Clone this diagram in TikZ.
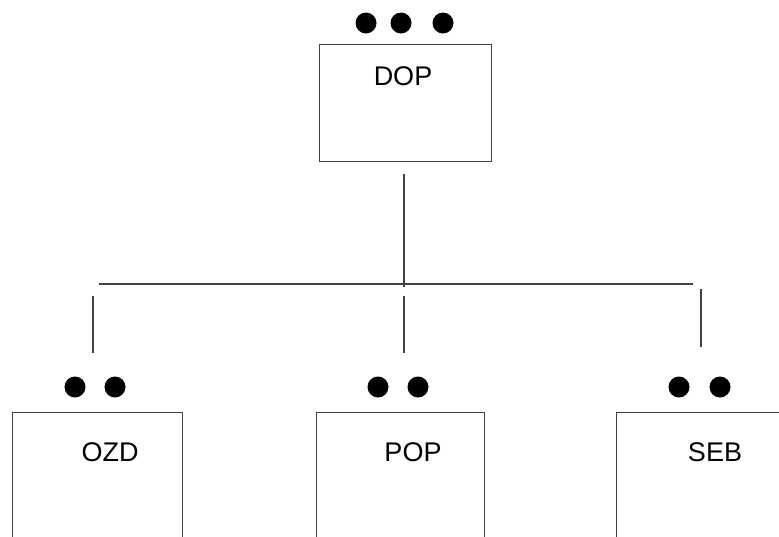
\documentclass[tikz,border=0pt]{standalone}
\usepackage{fontspec}
\setmainfont{Liberation Sans}
\begin{document}
\begin{tikzpicture}[x=1pt,y=-1pt,
  box/.style={draw=black!75,line width=1.1pt,rectangle,inner sep=0pt,anchor=north west},
  lbl/.style={font=\fontsize{27}{30}\selectfont,inner sep=0pt,text=black},
  dot/.style={circle,fill=black,inner sep=0pt,minimum size=21pt},
  conn/.style={draw=black!75,line width=1.1pt}]
\clip (0,0) rectangle (779,536);
\useasboundingbox (0,0) rectangle (779,536);
% top box
\node[box,minimum width=172pt,minimum height=117pt] (dop) at (319,44) {};
\node[lbl] (doptxt) at (403,76) {DOP};
\node[dot] (d1) at (366,23) {};
\node[dot] (d2) at (401,23) {};
\node[dot] (d3) at (443,23) {};
% bottom boxes
\node[box,minimum width=170pt,minimum height=160pt] (ozd) at (12,412) {};
\node[lbl] (ozdtxt) at (110,452) {OZD};
\node[dot] (o1) at (75,387) {};
\node[dot] (o2) at (115,387) {};
\node[box,minimum width=168pt,minimum height=160pt] (pop) at (316,412) {};
\node[lbl] (poptxt) at (413,452) {POP};
\node[dot] (p1) at (378,387) {};
\node[dot] (p2) at (418,387) {};
\node[box,minimum width=200pt,minimum height=160pt] (seb) at (616,412) {};
\node[lbl] (sebtxt) at (715,452) {SEB};
\node[dot] (s1) at (679,387) {};
\node[dot] (s2) at (720,387) {};
% connectors
\coordinate (a1) at (404,174);
\coordinate (a2) at (404,287);
\coordinate (h1) at (99,284);
\coordinate (h2) at (693,284);
\coordinate (l1) at (93,296);
\coordinate (l2) at (93,353);
\coordinate (m1) at (404,296);
\coordinate (m2) at (404,353);
\coordinate (r1) at (701,289);
\coordinate (r2) at (701,347);
\draw[conn] (a1) -- (a2);
\draw[conn] (h1) -- (h2);
\draw[conn] (l1) -- (l2);
\draw[conn] (m1) -- (m2);
\draw[conn] (r1) -- (r2);
\end{tikzpicture}
\end{document}
